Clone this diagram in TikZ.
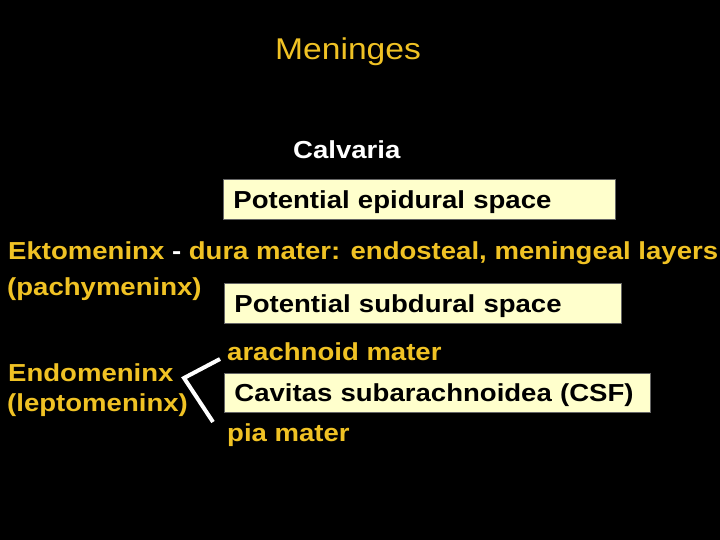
\documentclass[tikz,border=0pt]{standalone}
\usepackage{fontspec}
\usepackage{pgf, tikz}
\usetikzlibrary{positioning}

\newfontfamily\slidefont[FakeStretch=1.12]{Liberation Sans}
\newcommand{\titlefont}{\slidefont\fontsize{30pt}{34pt}\selectfont}
\newcommand{\layerfont}{\slidefont\bfseries\fontsize{24.6pt}{28pt}\selectfont}

\definecolor{slidegold}{RGB}{240,194,36}
\definecolor{boxfill}{RGB}{255,255,204}

\tikzset{
	goldtext/.style={anchor=base west, inner sep=0pt, text=slidegold, font=\layerfont},
	spacebox/.style={draw=black!60, line width=0.8pt, fill=boxfill, anchor=north west,
		inner xsep=10pt, inner ysep=0pt, minimum height=40pt, text depth=0pt,
		align=left, text=black, font=\layerfont}
}

\begin{document}
\begin{tikzpicture}[x=1pt, y=-1pt]
		\fill[black] (0,0) rectangle (720,540);
		\useasboundingbox (0,0) rectangle (720,540);
		
		\node[goldtext, font=\titlefont] (title) at (275,60) {Meninges};
		\node[goldtext, text=white] (calvaria) at (293,159) {Calvaria};
		
		% spaces between the layers
		\node[spacebox, text width=372pt] (epidural) at (223,179) {Potential epidural space};
		\node[spacebox, text width=377pt] (subdural) at (224,283) {Potential subdural space};
		\node[spacebox, text width=406pt, minimum height=39pt] (csf) at (224,373) {Cavitas subarachnoidea (CSF)};
		
		\node[goldtext] (ekto) at (8,259) {Ektomeninx \textcolor{white}{-} dura mater: endosteal, meningeal layers};
		\node[goldtext] (pachy) at (7,295) {(pachymeninx)};
		
		\node[goldtext] (endo) at (8,381) {Endomeninx};
		\node[goldtext] (lepto) at (7,411) {(leptomeninx)};
		\node[goldtext] (arachnoid) at (227,360) {arachnoid mater};
		\node[goldtext] (pia) at (227,441) {pia mater};
		
		\coordinate (brtop) at (220,359);
		\coordinate (brcorner) at (184,378);
		\coordinate (brbottom) at (213,422);
		\draw[white, line width=4pt] (brtop) -- (brcorner) -- (brbottom);
	\end{tikzpicture}
\end{document}
